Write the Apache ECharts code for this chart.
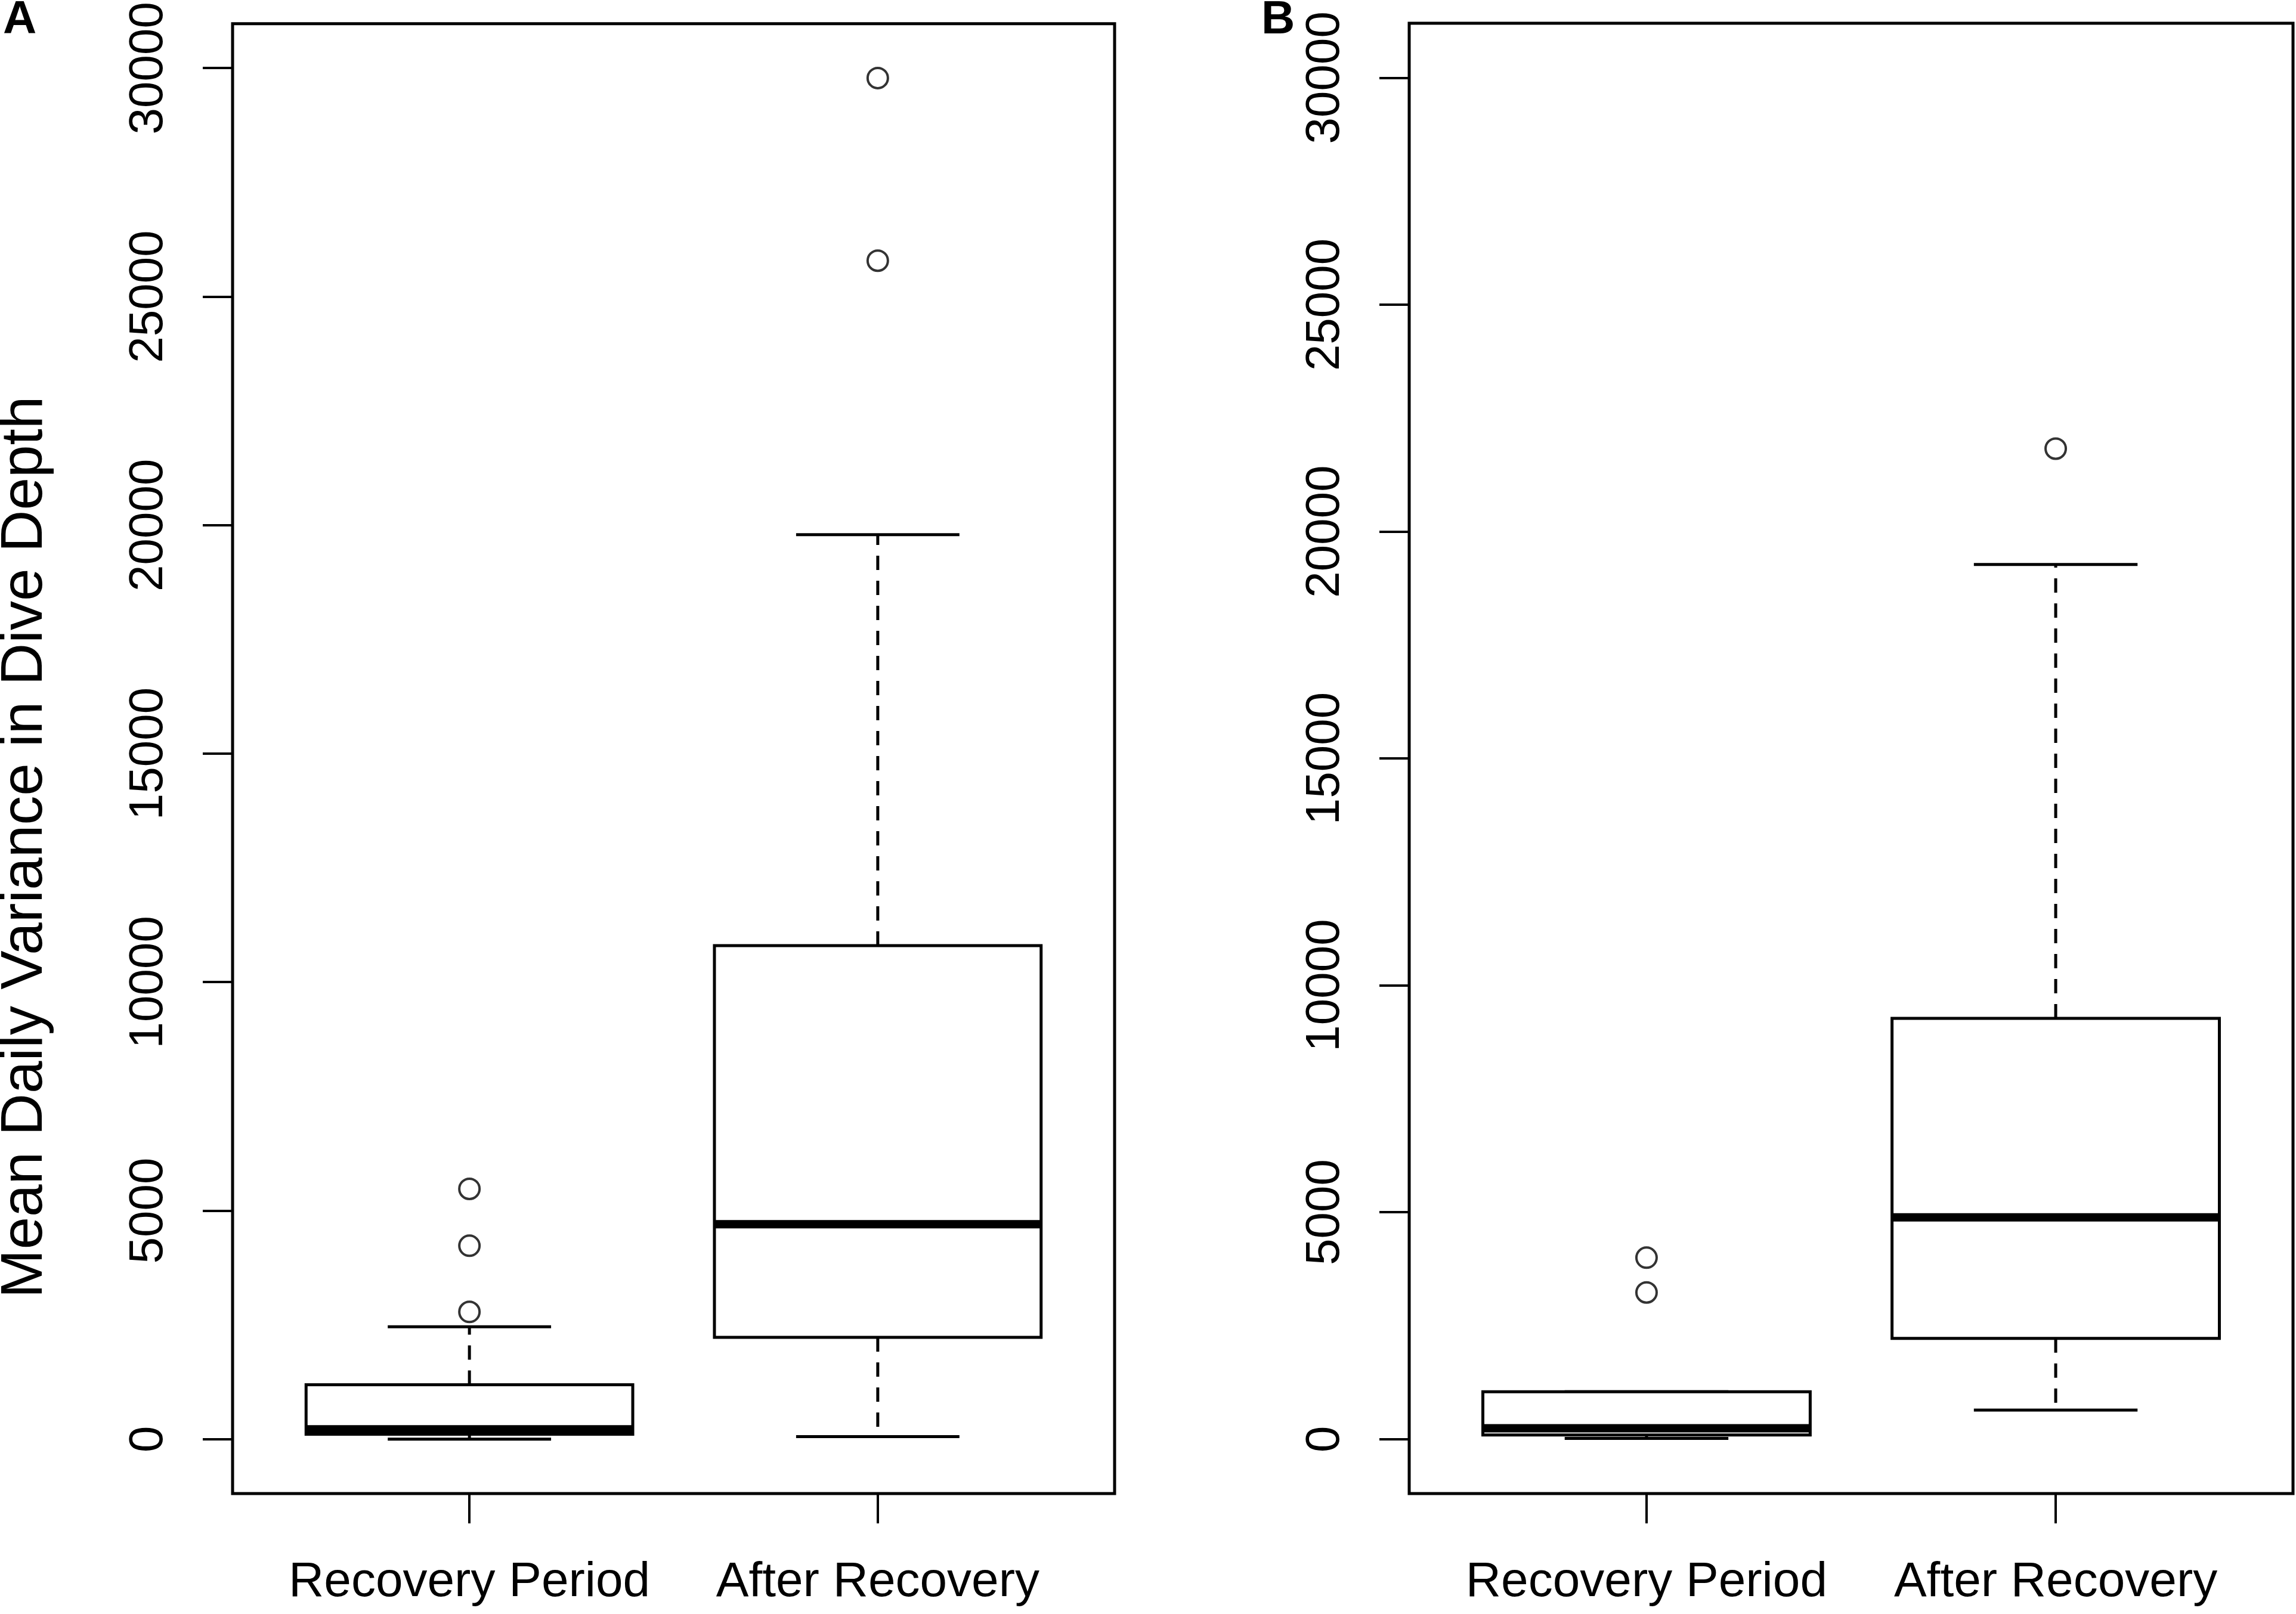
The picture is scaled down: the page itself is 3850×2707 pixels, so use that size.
<!DOCTYPE html>
<html>
<head>
<meta charset="utf-8">
<script src="https://cdn.jsdelivr.net/npm/echarts@6/dist/echarts.min.js"></script>
<style>
  html, body { margin: 0; padding: 0; background: #fff; }
  #chart { width: 3850px; height: 2707px; }
</style>
</head>
<body>
<div id="chart"></div>
<script>
// groups and axis ticks
var categories = ['Recovery Period', 'After Recovery'];
var yTicks = [0, 5000, 10000, 15000, 20000, 25000, 30000];

// panel A: [lower whisker, Q1, median, Q3, upper whisker] per group
var statsA = [
  [0, 108, 216, 1189, 2459],
  [54, 2227, 4703, 10800, 19792]
];
var outliersA = [
  [2784, 4232, 5476],
  [25786, 29782]
];

// panel B
var statsB = [
  [15, 90, 240, 1042, 1042],
  [641, 2219, 4885, 9272, 19275]
];
var outliersB = [
  [3231, 3998],
  [21826]
];

var FONT = 'Liberation Sans, Arial, sans-serif';

// R style axis extension (4% each side)
function rLimits(lo, hi) {
  var d = (hi - lo) * 0.04;
  return [lo - d, hi + d];
}

var xLim = rLimits(0.5, 2.5);
var yLimA = rLimits(0, 29782);
var yLimB = rLimits(0, 30000);

function renderBox(params, api) {
  var x = api.value(0);
  var lo = api.value(1), q1 = api.value(2), med = api.value(3), q3 = api.value(4), hi = api.value(5);
  var half = 0.4, cap = 0.2;
  var tl = api.coord([x - half, q3]);
  var br = api.coord([x + half, q1]);
  function seg(x1, y1, x2, y2, width, dash) {
    var a = api.coord([x1, y1]), b = api.coord([x2, y2]);
    return {
      type: 'line',
      shape: { x1: a[0], y1: a[1], x2: b[0], y2: b[1] },
      style: { stroke: '#000', lineWidth: width, lineDash: dash || null, lineCap: 'butt' }
    };
  }
  return {
    type: 'group',
    children: [
      seg(x, q3, x, hi, 5, [24, 18]),
      seg(x, q1, x, lo, 5, [24, 18]),
      seg(x - cap, hi, x + cap, hi, 5),
      seg(x - cap, lo, x + cap, lo, 5),
      {
        type: 'rect',
        shape: { x: tl[0], y: tl[1], width: br[0] - tl[0], height: br[1] - tl[1] },
        style: { fill: '#fff', stroke: '#000', lineWidth: 5 }
      },
      seg(x - half, med, x + half, med, 14)
    ]
  };
}

function boxData(stats) {
  return stats.map(function (s, i) { return [i + 1].concat(s); });
}
function outlierData(outs) {
  var res = [];
  outs.forEach(function (vals, i) {
    vals.forEach(function (v) { res.push([i + 1, v]); });
  });
  return res;
}

function xAxisFor(idx) {
  return {
    type: 'value', gridIndex: idx, min: xLim[0], max: xLim[1],
    splitLine: { show: false },
    axisLine: { show: false, onZero: false },
    axisTick: { show: true, inside: false, length: 50, customValues: [1, 2],
      lineStyle: { color: '#000', width: 4 } },
    axisLabel: { show: true, customValues: [1, 2], margin: 108,
      color: '#000', fontSize: 82, fontFamily: FONT,
      formatter: function (v) { return categories[Math.round(v) - 1]; } }
  };
}
function yAxisFor(idx, lim) {
  return {
    type: 'value', gridIndex: idx, min: lim[0], max: lim[1],
    splitLine: { show: false },
    axisLine: { show: false, onZero: false },
    axisTick: { show: true, inside: false, length: 50, customValues: yTicks,
      lineStyle: { color: '#000', width: 4 } },
    axisLabel: { show: true, customValues: yTicks, rotate: 90, margin: 100,
      color: '#000', fontSize: 80, fontFamily: FONT,
      formatter: function (v) { return String(Math.round(v)); } }
  };
}

var myChart = echarts.init(document.getElementById('chart'), null, { renderer: 'canvas' });
var option = {
  backgroundColor: '#fff',
  animation: false,
  textStyle: { fontFamily: FONT },
  grid: [
    { left: 390, top: 39, width: 1479, height: 2466, show: true, borderColor: '#000', borderWidth: 5, backgroundColor: 'transparent' },
    { left: 2363, top: 39, width: 1482, height: 2466, show: true, borderColor: '#000', borderWidth: 5, backgroundColor: 'transparent' }
  ],
  xAxis: [xAxisFor(0), xAxisFor(1)],
  yAxis: [yAxisFor(0, yLimA), yAxisFor(1, yLimB)],
  graphic: [
    { type: 'text', x: 43, y: 1421, rotation: Math.PI / 2,
      style: { text: 'Mean Daily Variance in Dive Depth', fill: '#000', font: '98px ' + FONT,
        textAlign: 'center', textVerticalAlign: 'middle' } },
    { type: 'text', x: 5, y: 34,
      style: { text: 'A', fill: '#000', font: 'bold 78px ' + FONT,
        textAlign: 'left', textVerticalAlign: 'middle' } },
    { type: 'text', x: 2115, y: 34,
      style: { text: 'B', fill: '#000', font: 'bold 78px ' + FONT,
        textAlign: 'left', textVerticalAlign: 'middle' } }
  ],
  series: [
    { type: 'custom', xAxisIndex: 0, yAxisIndex: 0, renderItem: renderBox,
      encode: { x: 0, y: [1, 2, 3, 4, 5] }, data: boxData(statsA) },
    { type: 'scatter', xAxisIndex: 0, yAxisIndex: 0, symbol: 'circle', symbolSize: 34,
      itemStyle: { color: '#fff', borderColor: '#000', borderWidth: 4 },
      data: outlierData(outliersA) },
    { type: 'custom', xAxisIndex: 1, yAxisIndex: 1, renderItem: renderBox,
      encode: { x: 0, y: [1, 2, 3, 4, 5] }, data: boxData(statsB) },
    { type: 'scatter', xAxisIndex: 1, yAxisIndex: 1, symbol: 'circle', symbolSize: 34,
      itemStyle: { color: '#fff', borderColor: '#000', borderWidth: 4 },
      data: outlierData(outliersB) }
  ]
};
// 使用配置项显示图表
myChart.setOption(option);
</script>
</body>
</html>
